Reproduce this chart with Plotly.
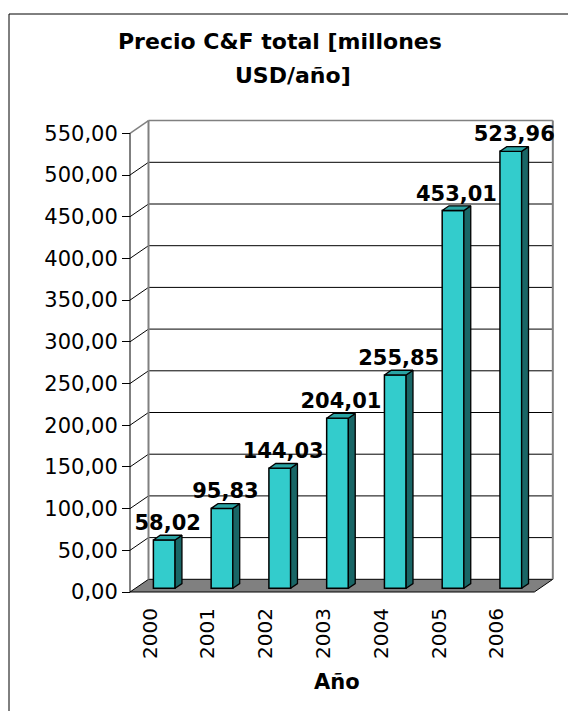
import plotly.graph_objects as go

# ---- data ----
years = ["2000", "2001", "2002", "2003", "2004", "2005", "2006"]
precio = [58.02, 95.83, 144.03, 204.01, 255.85, 453.01, 523.96]
y_ticks = [0, 50, 100, 150, 200, 250, 300, 350, 400, 450, 500, 550]

# ---- page / plot geometry (pixels) ----
W, H = 568, 711
ML, MR, MT, MB = 125, 10, 115, 115
PW, PH = W - ML - MR, H - MT - MB
X0_PX = 130.0      # pixel where the front value axis stands (x = -0.5)
CAT_PX = 57.76     # pixels per category
Y0_PX = 592.0      # pixel of value 0 on the front plane
UNIT_PX = 0.834    # pixels per value unit

x_lo = -0.5 - (X0_PX - ML) / CAT_PX
x_hi = x_lo + PW / CAT_PX
y_lo = -((MT + PH) - Y0_PX) / UNIT_PX
y_hi = y_lo + PH / UNIT_PX

# depth of the 3-D box (back plane offset), in data units
DX = 18.5 / CAT_PX
DY = 12.7 / UNIT_PX
F0, F1 = 0.29, 0.66      # bar front / back position within the depth
BAR_W = 0.376

FRONT = "#33CCCC"
TOP = "#29A3A3"
SIDE = "#196666"
WALL = "#808080"


def px_x(px):
    return (px - ML) / PW


def px_y(py):
    return (MT + PH - py) / PH


n = len(years)
xs = list(range(n))
xl_end, xr_end = -0.5, n - 0.5

shapes = []
# floor
shapes.append(dict(
    type="path", xref="x", yref="y", layer="below",
    path=(f"M {xl_end},0 L {xr_end},0 L {xr_end + DX},{DY} "
          f"L {xl_end + DX},{DY} Z"),
    fillcolor=WALL, line=dict(color="black", width=1)))
# back-wall gridlines and left-wall diagonals
for v in y_ticks[1:]:
    col = WALL if v == y_ticks[-1] else "black"
    wid = 1.5 if v == y_ticks[-1] else 1
    shapes.append(dict(type="line", xref="x", yref="y", layer="below",
                       x0=xl_end + DX, x1=xr_end + DX, y0=v + DY, y1=v + DY,
                       line=dict(color=col, width=wid)))
    shapes.append(dict(type="line", xref="x", yref="y", layer="below",
                       x0=xl_end, x1=xl_end + DX, y0=v, y1=v + DY,
                       line=dict(color=col, width=wid)))
# wall edges
for xe in (xl_end + DX, xr_end + DX):
    shapes.append(dict(type="line", xref="x", yref="y", layer="below",
                       x0=xe, x1=xe, y0=DY, y1=y_ticks[-1] + DY,
                       line=dict(color=WALL, width=2)))
# front value axis line
shapes.append(dict(type="line", xref="x", yref="y", layer="below",
                   x0=xl_end, x1=xl_end, y0=0, y1=y_ticks[-1],
                   line=dict(color="black", width=1)))
# chart frame
shapes.append(dict(type="rect", xref="paper", yref="paper",
                   x0=px_x(9), x1=px_x(620), y0=px_y(14), y1=px_y(760),
                   line=dict(color="black", width=1), fillcolor="rgba(0,0,0,0)"))

fig = go.Figure()

# side and top faces of each bar
fx0, fy0 = F0 * DX, F0 * DY
ddx, ddy = (F1 - F0) * DX, (F1 - F0) * DY
side_x, side_y, top_x, top_y = [], [], [], []
for i, v in zip(xs, precio):
    xl = i + fx0 - BAR_W / 2
    xr = i + fx0 + BAR_W / 2
    yb, yt = fy0, v + fy0
    side_x += [xr, xr + ddx, xr + ddx, xr, xr, None]
    side_y += [yb, yb + ddy, yt + ddy, yt, yb, None]
    top_x += [xl, xr, xr + ddx, xl + ddx, xl, None]
    top_y += [yt, yt, yt + ddy, yt + ddy, yt, None]

fig.add_trace(go.Scatter(x=side_x, y=side_y, mode="lines", fill="toself",
                         fillcolor=SIDE, line=dict(color="black", width=1.3),
                         hoverinfo="skip"))
fig.add_trace(go.Scatter(x=top_x, y=top_y, mode="lines", fill="toself",
                         fillcolor=TOP, line=dict(color="black", width=1.3),
                         hoverinfo="skip"))

# front faces
fig.add_trace(go.Bar(
    x=[i + fx0 for i in xs], y=precio, base=[fy0] * n, width=BAR_W,
    marker=dict(color=FRONT, line=dict(color="black", width=1.5)),
    name="Precio C&F total"))

# value labels
labels = [f"{v:.2f}".replace(".", ",") for v in precio]
fig.add_trace(go.Scatter(
    x=[i + (F0 + F1) / 2 * DX for i in xs],
    y=[v + F1 * DY for v in precio],
    mode="text", text=labels, textposition="top center",
    textfont=dict(family="DejaVu Sans", size=21, color="black", weight="bold"),
    cliponaxis=False, hoverinfo="skip"))

annotations = [
    dict(text="<b>Precio C&amp;F total [millones</b>", xref="paper", yref="paper",
         x=px_x(280), y=px_y(41), showarrow=False, xanchor="center",
         yanchor="middle", font=dict(family="DejaVu Sans", size=22, color="black")),
    dict(text="<b>USD/año]</b>", xref="paper", yref="paper",
         x=px_x(293), y=px_y(76), showarrow=False, xanchor="center",
         yanchor="middle", font=dict(family="DejaVu Sans", size=22, color="black")),
    dict(text="<b>Año</b>", xref="paper", yref="paper",
         x=px_x(337), y=px_y(682), showarrow=False, xanchor="center",
         yanchor="middle", font=dict(family="DejaVu Sans", size=21, color="black")),
]

fig.update_layout(
    width=W, height=H,
    margin=dict(l=ML, r=MR, t=MT, b=MB, pad=0),
    paper_bgcolor="white", plot_bgcolor="white",
    showlegend=False, separators=",.",
    shapes=shapes, annotations=annotations,
    font=dict(family="DejaVu Sans", color="black"),
    xaxis=dict(range=[x_lo, x_hi], showgrid=False, zeroline=False,
               showline=False, ticks="",
               tickvals=[i - 0.15 for i in xs], ticktext=years,
               tickangle=-90, tickfont=dict(size=20, color="black"),
               ticklabelstandoff=7),
    yaxis=dict(range=[y_lo, y_hi], showgrid=False, zeroline=False,
               showline=False, anchor="free", position=px_x(X0_PX),
               tickvals=y_ticks, tickformat=".2f", ticks="outside",
               ticklen=8, tickcolor="black", tickwidth=1,
               tickfont=dict(size=21, color="black")),
)

fig.write_html("out.html")
